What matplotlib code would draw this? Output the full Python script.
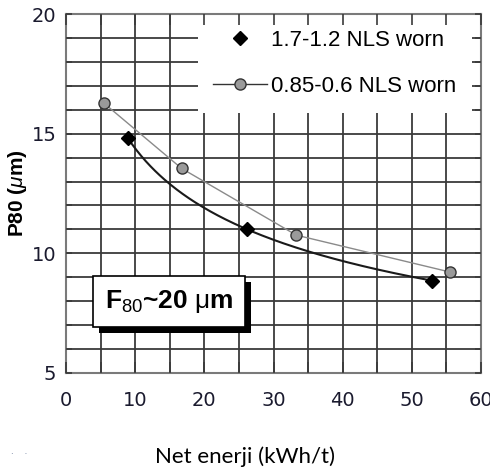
import numpy as np
import matplotlib
matplotlib.use("Agg")
import matplotlib.pyplot as plt
from matplotlib import patheffects
from matplotlib.lines import Line2D

# ---- data ----
x_coarse = [8.9, 26.2, 52.9]          # 1.7-1.2 NLS worn
y_coarse = [14.83, 11.0, 8.86]
x_fine = [5.5, 16.7, 33.3, 55.5]      # 0.85-0.6 NLS worn
y_fine = [16.27, 13.55, 10.76, 9.22]
label_coarse = "1.7-1.2 NLS worn"
label_fine = "0.85-0.6 NLS worn"
x_ticks = [0, 10, 20, 30, 40, 50, 60]
y_ticks = [5, 10, 15, 20]
x_grid = list(range(0, 61, 5))
y_grid = list(range(5, 21, 1))
annot_text = r"$\mathbf{F}_{\mathrm{80}}$~20 $\mathrm{μ}$m"

plt.rcParams['mathtext.fontset'] = 'custom'
plt.rcParams['mathtext.rm'] = 'Liberation Sans'
plt.rcParams['mathtext.it'] = 'Liberation Sans:italic'
plt.rcParams['mathtext.bf'] = 'Liberation Sans:bold'
plt.rcParams['font.family'] = ['Liberation Sans', 'DejaVu Sans']

fig = plt.figure(figsize=(4.9, 4.75), dpi=100)
ax = fig.add_axes([66/490, 1-373/475, 415/490, 359/475])
ax.set_xlim(0, 60)
ax.set_ylim(5, 20)

# grid drawn below legend/annotation
for gx in x_grid:
    ax.axvline(gx, color='#3a3a3a', lw=1.3, zorder=1)
for gy in y_grid:
    ax.axhline(gy, color='#3a3a3a', lw=1.3, zorder=1)

# fine series: line through points
ax.plot(x_fine, y_fine, color='#8a8a8a', lw=1.0, zorder=3)
ax.plot(x_fine, y_fine, ls='none', marker='o', ms=8, mfc='#9a9a9a',
        mec='#333333', mew=1.0, zorder=4)

# coarse series: smooth trend through points (quadratic in ln x)
coef = np.polyfit(np.log(x_coarse), y_coarse, 2)
xs = np.linspace(min(x_coarse), max(x_coarse), 200)
ax.plot(xs, np.polyval(coef, np.log(xs)), color='#1a1a1a', lw=1.5, zorder=3)
ax.plot(x_coarse, y_coarse, ls='none', marker='D', ms=7, mfc='black',
        mec='black', zorder=4)

# ticks
ax.set_xticks(x_ticks)
ax.set_xticks(x_grid, minor=True)
ax.set_yticks(y_ticks)
ax.set_yticks(y_grid, minor=True)
ax.tick_params(axis='x', which='both', direction='in', top=True, bottom=True,
               length=8, width=1.2, color='#3a3a3a', pad=13,
               labelsize=14, labelcolor='#1a1a2e', labelfontfamily='Liberation Sans Narrow')
ax.tick_params(axis='y', which='both', direction='in', left=True, right=True,
               length=4.5, width=1.2, color='#3a3a3a', pad=7,
               labelsize=14, labelcolor='#1a1a2e', labelfontfamily='Liberation Sans Narrow')
for s in ax.spines.values():
    s.set_color('#7a7a7a')
    s.set_linewidth(1.5)
ax.set_axisbelow(False)

# legend
handles = [Line2D([], [], ls='none', marker='D', ms=7, mfc='black', mec='black'),
           Line2D([], [], color='#333333', lw=1.0, marker='o', ms=8,
                  mfc='#9a9a9a', mec='#333333')]
leg = ax.legend(handles, [label_coarse, label_fine], loc='upper right',
                bbox_to_anchor=(0.978, 1.0), borderaxespad=0, fontsize=16,
                frameon=True, framealpha=1, edgecolor='white', fancybox=False,
                handlelength=2.4, handletextpad=0.2, labelspacing=1.15,
                borderpad=0.7)
leg.get_frame().set_linewidth(0)
leg.set_zorder(2)

# annotation box with shadow
t = ax.text(0.094, 0.2, annot_text, transform=ax.transAxes, fontsize=19,
            fontweight='bold', va='center', ha='left', zorder=2,
            bbox=dict(boxstyle='square,pad=0.45', fc='white', ec='black', lw=1.2))
t.get_bbox_patch().set_path_effects([
    patheffects.SimplePatchShadow(offset=(4, -4.5), shadow_rgbFace='black', alpha=1.0),
    patheffects.Normal()])

ax.set_ylabel(r'P80 ($\mu$m)', fontsize=15, fontweight='bold')
ax.yaxis.set_label_coords(-0.09, 0.5)
fig.text(245/490, 1-457/475, 'Net enerji (kWh/t)', fontsize=16,
         family=['Lato', 'DejaVu Sans'], ha='center', va='center')
fig.text(11/490, 1-451/475, '.    .', fontsize=7, color='#6a7a9a', va='center')

fig.savefig('out.png', dpi=100)
